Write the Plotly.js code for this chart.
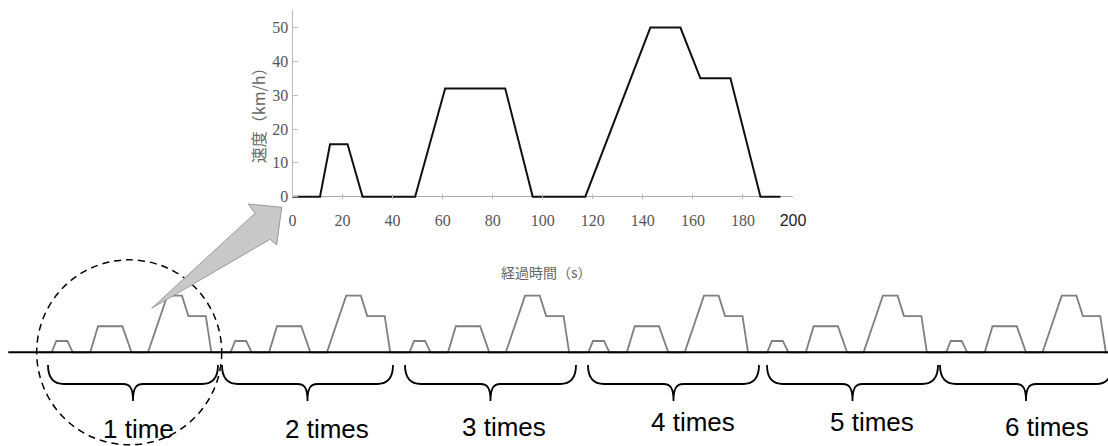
<!DOCTYPE html>
<html><head><meta charset="utf-8">
<script src="https://cdn.plot.ly/plotly-3.0.1.min.js"></script>
<style>html,body{margin:0;padding:0;background:#fff}#chart{width:1108px;height:446px}</style>
</head><body><div id="chart"></div>
<script>
// ---- Inset: one driving cycle ----
const cycleTime  = [0, 11, 15, 22, 28, 49, 61, 85, 96, 117, 143, 155, 163, 175, 187, 195];
const cycleSpeed = [0, 0, 15.5, 15.5, 0, 0, 32, 32, 0, 0, 50, 50, 35, 35, 0, 0];
const xTickVals = [0, 20, 40, 60, 80, 100, 120, 140, 160, 180, 200];
const yTickVals = [0, 10, 20, 30, 40, 50];
const xTitleText = '経過時間（s）';
const yTitleText = '速度（km/h）';

// ---- Miniature cycle sketched along the bottom line ----
const miniTime  = [0, 11, 16, 28, 34, 53, 61.5, 88, 98, 116, 137, 153, 160, 179, 185, 195];
const miniSpeed = [0, 0, 10, 10, 0, 0, 23, 23, 0, 0, 50, 50, 32, 32, 0, 0];
const miniPeriod = 195;
const repeatLabels = ['1 time', '2 times', '3 times', '4 times', '5 times', '6 times'];

// ---- layout helpers (pixel -> paper) ----
const W = 1108, H = 446;
const px = x => x / W;
const py = y => 1 - y / H;
const braceSpans = [[48,218],[222,393],[405,576],[588,759],[767,938],[940,1112]];
const labelCenters = [[138,429],[327,429],[504,427],[693,422],[872,422],[1047,427]];

// repeated miniature series
const repT = [], repV = [];
repeatLabels.forEach((_, i) => {
  miniTime.forEach((t, k) => { repT.push(t + i * miniPeriod); repV.push(miniSpeed[k]); });
});

const traces = [
  { x: cycleTime, y: cycleSpeed, type: 'scatter', mode: 'lines', xaxis: 'x', yaxis: 'y',
    line: { color: '#111', width: 2 }, hoverinfo: 'skip', showlegend: false },
  { x: repT, y: repV, type: 'scatter', mode: 'lines', xaxis: 'x3', yaxis: 'y3',
    line: { color: '#7f7f7f', width: 1.8 }, hoverinfo: 'skip', showlegend: false }
];

function bracePath(x0, x1) {
  const xm = (x0 + x1) / 2, yt = 365, yh = 384, yb = 401;
  const P = (x, y) => px(x).toFixed(5) + ',' + py(y).toFixed(5);
  return 'M' + P(x0, yt) +
    ' C' + P(x0, yh - 6) + ' ' + P(x0 + 6, yh) + ' ' + P(x0 + 16, yh) +
    ' L' + P(xm - 10, yh) +
    ' C' + P(xm - 3, yh) + ' ' + P(xm, yh + 4) + ' ' + P(xm, yb) +
    ' C' + P(xm, yh + 4) + ' ' + P(xm + 3, yh) + ' ' + P(xm + 10, yh) +
    ' L' + P(x1 - 16, yh) +
    ' C' + P(x1 - 6, yh) + ' ' + P(x1, yh - 6) + ' ' + P(x1, yt);
}
function polyPath(pts) {
  return 'M' + pts.map(p => px(p[0]).toFixed(5) + ',' + py(p[1]).toFixed(5)).join(' L') + ' Z';
}

const shapes = [];
shapes.push({ type: 'line', xref: 'x3', yref: 'y3', x0: -36.3, x1: 1170, y0: 0, y1: 0,
  line: { color: '#000', width: 2 } });
braceSpans.forEach(s => shapes.push({ type: 'path', xref: 'paper', yref: 'paper',
  path: bracePath(s[0], s[1]), line: { color: '#000', width: 1.8 } }));
shapes.push({ type: 'circle', xref: 'paper', yref: 'paper',
  x0: px(36.7), x1: px(221.7), y0: py(444.8), y1: py(259.8),
  line: { color: '#000', width: 1.5, dash: '7px,5px' } });
shapes.push({ type: 'path', xref: 'paper', yref: 'paper',
  path: polyPath([[151.7,308.3],[255,213.3],[248.3,204],[281.7,207.3],[276.7,245],[270,239.3]]),
  fillcolor: '#c8c8c8', line: { color: '#999', width: 1 } });

const annotations = [
  { xref: 'paper', yref: 'paper', x: px(546.7), y: py(271.5), text: xTitleText, showarrow: false,
    xanchor: 'center', yanchor: 'middle', font: { family: 'Noto Sans CJK JP', size: 14, color: '#666' } },
  { xref: 'paper', yref: 'paper', x: px(257.5), y: py(111.7), text: yTitleText, showarrow: false,
    textangle: -90, xanchor: 'center', yanchor: 'middle',
    font: { family: 'Noto Sans CJK JP', size: 16, color: '#666' } }
];
repeatLabels.forEach((t, i) => annotations.push({ xref: 'paper', yref: 'paper',
  x: px(labelCenters[i][0]), y: py(labelCenters[i][1]), text: t, showarrow: false,
  xanchor: 'center', yanchor: 'middle',
  font: { family: 'Liberation Sans, Arial, sans-serif', size: 26, color: '#000' } }));

const tickFont = { family: '"Liberation Serif", "DejaVu Serif", "Times New Roman", serif', size: 16, color: '#555' };
const xTickText = xTickVals.map((v, i) => i === xTickVals.length - 1
  ? '<span style="font-family:Liberation Sans;fill:#222">' + v + '</span>' : String(v));
const layout = {
  width: W, height: H, margin: { l: 0, r: 0, t: 0, b: 0, pad: 0 },
  paper_bgcolor: '#fff', plot_bgcolor: 'rgba(0,0,0,0)', showlegend: false,
  xaxis: { domain: [px(292.5), px(793)], range: [0, 200], tickvals: xTickVals, ticktext: xTickText,
    ticks: 'inside', ticklen: 5, tickcolor: '#bbb', showline: false, zeroline: false, showgrid: false,
    tickfont: tickFont, ticklabelstandoff: 10, anchor: 'y', fixedrange: true },
  yaxis: { domain: [py(199), py(10)], range: [-0.68, 55.2], tickvals: yTickVals, ticks: 'inside',
    ticklen: 5, tickcolor: '#bbb', showline: true, linecolor: '#bbb', linewidth: 1,
    zeroline: true, zerolinecolor: '#aaa', zerolinewidth: 1, showgrid: false,
    tickfont: tickFont, anchor: 'x', fixedrange: true },
  xaxis3: { domain: [0, 1], range: [-45.35, 1162.4], visible: false, anchor: 'y3', fixedrange: true },
  yaxis3: { domain: [py(360), py(270)], range: [-6.8, 72.7], visible: false, anchor: 'x3', fixedrange: true },
  shapes: shapes, annotations: annotations
};
Plotly.newPlot('chart', traces, layout, { staticPlot: true, displayModeBar: false });
</script></body></html>
